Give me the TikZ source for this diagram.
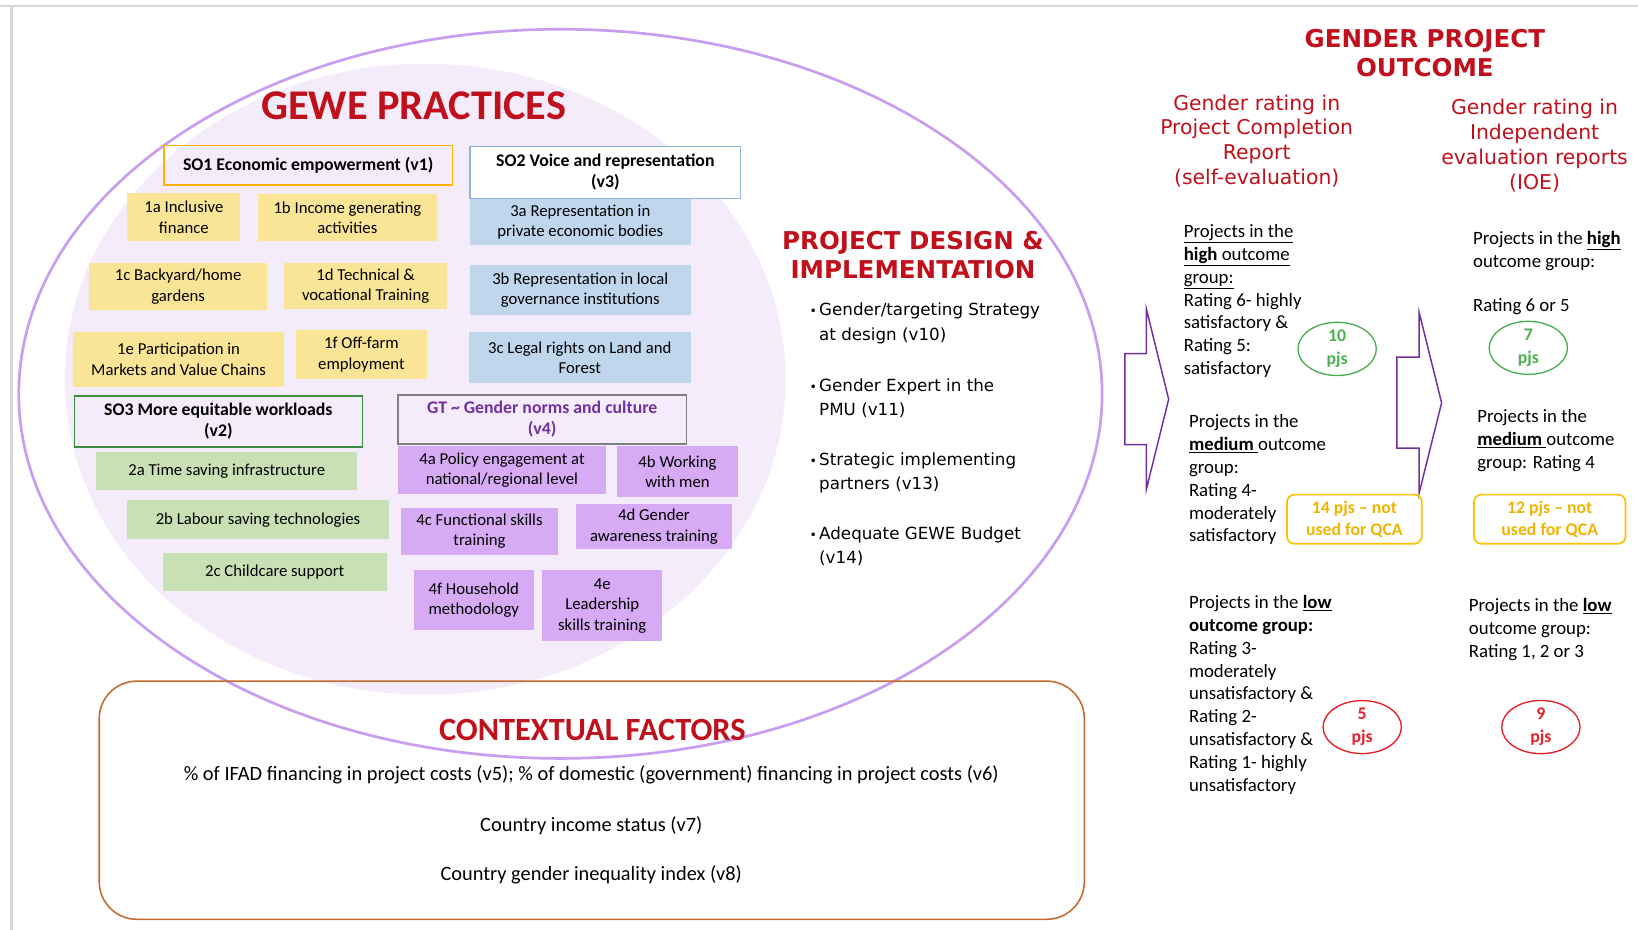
\documentclass[tikz,border=0pt]{standalone}
\usepackage{fontspec}
\setmainfont{Carlito}
\newfontfamily\myWideFont{DejaVu Sans}
\usetikzlibrary{positioning, shapes.geometric}

\definecolor{myTitleRed}{RGB}{192,16,28}
\definecolor{myYellow}{RGB}{250,229,150}
\definecolor{myBlue}{RGB}{191,214,237}
\definecolor{mySky}{RGB}{143,180,226}
\definecolor{myGreen}{RGB}{201,224,180}
\definecolor{myLilac}{RGB}{214,170,245}
\definecolor{myHaze}{RGB}{244,236,251}
\definecolor{myRing}{RGB}{200,158,240}
\definecolor{myViolet}{RGB}{112,48,160}
\definecolor{myRust}{RGB}{200,105,45}
\definecolor{myGold}{RGB}{255,192,0}
\definecolor{myGoldText}{RGB}{240,180,0}
\definecolor{myLeaf}{RGB}{76,176,80}
\definecolor{myRed}{RGB}{232,30,40}
\definecolor{myEdge}{RGB}{215,215,215}

\newcommand{\myDot}{\llap{{\fontsize{12}{12}\selectfont •}\hspace{2pt}}}

\begin{document}
\begin{tikzpicture}[x=1pt, y=-1pt,
                    my size/.style 2 args={minimum width=#1, minimum height=#2},
                    my practice/.style={
                      fill=#1, inner sep=0pt, align=center,
                      font=\fontsize{16}{19.5}\selectfont},
                    my objective/.style={
                      draw=#1, line width=1.2pt, inner sep=0pt, align=center,
                      font=\bfseries\fontsize{17}{20}\selectfont},
                    my big title/.style={
                      text=myTitleRed, inner sep=0pt,
                      font=\bfseries\fontsize{#1}{#1}\selectfont},
                    my title/.style={
                      text=myTitleRed, inner sep=0pt, align=center,
                      font=\myWideFont\bfseries\fontsize{23.5}{28}\selectfont},
                    my subtitle/.style={
                      text=myTitleRed, inner sep=0pt, align=center,
                      font=\myWideFont\fontsize{19.5}{23.8}\selectfont},
                    my bullet/.style={
                      inner sep=0pt, anchor=north west, align=left,
                      font=\myWideFont\fontsize{16}{23.5}\selectfont},
                    my rating/.style={
                      inner sep=0pt, anchor=north west, align=left,
                      font=\fontsize{18}{21.8}\selectfont},
                    my count/.style={
                      ellipse, draw=#1, text=#1, line width=1.3pt, inner sep=0pt,
                      minimum width=75, minimum height=50, align=center,
                      font=\bfseries\fontsize{17}{22}\selectfont},
                    my spare/.style={
                      draw=myGold, line width=1.6pt, rounded corners=7pt,
                      text=myGoldText, inner sep=0pt, align=center,
                      minimum width=#1, minimum height=47,
                      font=\bfseries\fontsize{17}{21}\selectfont},
                    my arrow/.style={draw=myViolet, line width=1.4pt, fill=white}]

\useasboundingbox (0,0) rectangle (1568,890);
\draw[myEdge, line width=2pt] (0,5.5) -- (11,5.5) -- (11,890);
\draw[myEdge, line width=2pt] (11,5.5) -- (1568,5.5);

% the two circles of practices
\fill[myHaze] (407,363) ellipse [x radius=345pt, y radius=302pt];
\draw[myRing, line width=2.6pt] (536.5,377) ellipse [x radius=518.5pt, y radius=349pt];

\node[my big title=40.5] (gewe) at (396,101) {GEWE PRACTICES};

\node[my practice=myYellow, my size={108}{46}] (p1a) at (176,208) {1a Inclusive\\finance};
\node[my practice=myYellow, my size={171}{45}] (p1b) at (332.5,208.5) {1b Income generating\\activities};
\node[my practice=myYellow, my size={171}{45}] (p1c) at (170.5,274.5) {1c Backyard/home\\gardens};
\node[my practice=myYellow, my size={156}{44}] (p1d) at (350,274) {1d Technical \&\\vocational Training};
\node[my practice=myYellow, my size={202}{52}] (p1e) at (171,344) {1e Participation in\\Markets and Value Chains};
\node[my practice=myYellow, my size={126}{47}] (p1f) at (346,339.5) {1f Off-farm\\employment};

\node[my practice=myBlue, my size={211}{45}] (p3a) at (555.5,212.5) {3a Representation in\\private economic bodies};
\node[my practice=myBlue, my size={211}{48}] (p3b) at (555.5,278) {3b Representation in local\\governance institutions};
\node[my practice=myBlue, my size={212}{49}] (p3c) at (555,342.5) {3c Legal rights on Land and\\Forest};

\node[my practice=myGreen, my size={250}{36}] (p2a) at (217,451) {2a Time saving infrastructure};
\node[my practice=myGreen, my size={250}{37}] (p2b) at (247,497.5) {2b Labour saving technologies};
\node[my practice=myGreen, my size={214}{37}] (p2c) at (263,547.5) {2c Childcare support};

\node[my practice=myLilac, my size={199}{46}] (p4a) at (480.5,450) {4a Policy engagement at\\national/regional level};
\node[my practice=myLilac, my size={115}{49}] (p4b) at (648.5,451.5) {4b Working\\with men};
\node[my practice=myLilac, my size={150}{45}] (p4c) at (459,508.5) {4c Functional skills\\training};
\node[my practice=myLilac, my size={150}{44}] (p4d) at (626,504) {4d Gender\\awareness training};
\node[my practice=myLilac, my size={115}{57}] (p4f) at (453.5,574.5) {4f Household\\methodology};
\node[my practice=myLilac, my size={115}{68}] (p4e) at (576.5,580) {4e\\Leadership\\skills training};

\node[my objective=myGold!80!orange, my size={276}{38}] (so1) at (295,158) {SO1 Economic empowerment (v1)};
\node[my objective=mySky, fill=white, my size={259}{50}] (so2) at (579.5,165) {SO2 Voice and representation\\(v3)};
\node[my objective=myLeaf!80!black, my size={276}{49}] (so3) at (209,403.5) {SO3 More equitable workloads\\(v2)};
\node[my objective=gray, text=myViolet, my size={276}{47}] (gt) at (519,401.5) {GT \textasciitilde{} Gender norms and culture\\(v4)};

% context
\draw[myRust, line width=1.5pt, rounded corners=36pt] (95,652) rectangle (1038,880);
\node[my big title=31] (ctx) at (567,699) {CONTEXTUAL FACTORS};
\begin{scope}[every node/.style={inner sep=0pt, font=\fontsize{19.5}{22}\selectfont}]
  \node (v5) at (566,742) {\% of IFAD financing in project costs (v5); \% of domestic (government) financing in project costs (v6)};
  \node (v7) at (566,790) {Country income status (v7)};
  \node (v8) at (566,837) {Country gender inequality index (v8)};
\end{scope}

% design and implementation
\node[my title] (design) at (874,244) {PROJECT DESIGN \&\\IMPLEMENTATION};
\node[my bullet] (d1) at (784,290) {\myDot Gender/targeting Strategy\\at design (v10)};
\node[my bullet] (d2) at (784,362) {\myDot Gender Expert in the\\PMU (v11)};
\node[my bullet] (d3) at (784,433) {\myDot Strategic implementing\\partners (v13)};
\node[my bullet] (d4) at (784,504) {\myDot Adequate GEWE Budget\\(v14)};

\draw[my arrow] (1076.7,338.5) -- (1097.4,338.5) -- (1097.4,295.8) -- (1118.7,382.2)
  -- (1097.4,468.3) -- (1097.4,425.6) -- (1076.7,425.6) -- cycle;
\draw[my arrow] (1337.2,341.9) -- (1358.5,341.9) -- (1358.5,299) -- (1380,385.7)
  -- (1358.5,471.8) -- (1358.5,429) -- (1337.2,429) -- cycle;

% outcome
\node[my title] (outcome) at (1364,51) {GENDER PROJECT\\OUTCOME};
\node[my subtitle] (pcr) at (1203,135) {Gender rating in\\Project Completion\\Report\\(self-evaluation)};
\node[my subtitle] (ioe) at (1469,139.5) {Gender rating in\\Independent\\evaluation reports\\(IOE)};

\node[my rating] (pcrhigh) at (1133,215) {\underline{Projects in the}\\\underline{\textbf{high} outcome}\\\underline{group:}\\Rating 6- highly\\satisfactory \&\\Rating 5:\\satisfactory};
\node[my rating] (pcrmed) at (1138,397) {Projects in the\\\underline{\textbf{medium}\ }outcome\\group:\\Rating 4-\\moderately\\satisfactory};
\node[my rating] (pcrlow) at (1138,570) {Projects in the \underline{\textbf{low}}\\\textbf{outcome group:}\\Rating 3-\\moderately\\unsatisfactory \&\\Rating 2-\\unsatisfactory \&\\Rating 1- highly\\unsatisfactory};

\node[my rating] (ioehigh) at (1410,221) {Projects in the \underline{\textbf{high}}\\outcome group:};
\node[my rating] (ioerate) at (1410,286) {Rating 6 or 5};
\node[my rating] (ioemed) at (1414,392) {Projects in the\\\underline{\textbf{medium}\ }outcome\\group: Rating 4};
\node[my rating] (ioelow) at (1406,573) {Projects in the \underline{\textbf{low}}\\outcome group:\\Rating 1, 2 or 3};

\node[my count=myLeaf] (n10) at (1280,334) {10\\pjs};
\node[my count=myLeaf] (n7) at (1463,333) {7\\pjs};
\node[my count=myRed] (n5) at (1304,696) {5\\pjs};
\node[my count=myRed] (n9) at (1475,696) {9\\pjs};
\node[my spare=129] (n14) at (1296.5,497) {14 pjs – not\\used for QCA};
\node[my spare=145] (n12) at (1483.5,497) {12 pjs – not\\used for QCA};
\end{tikzpicture}
\end{document}
